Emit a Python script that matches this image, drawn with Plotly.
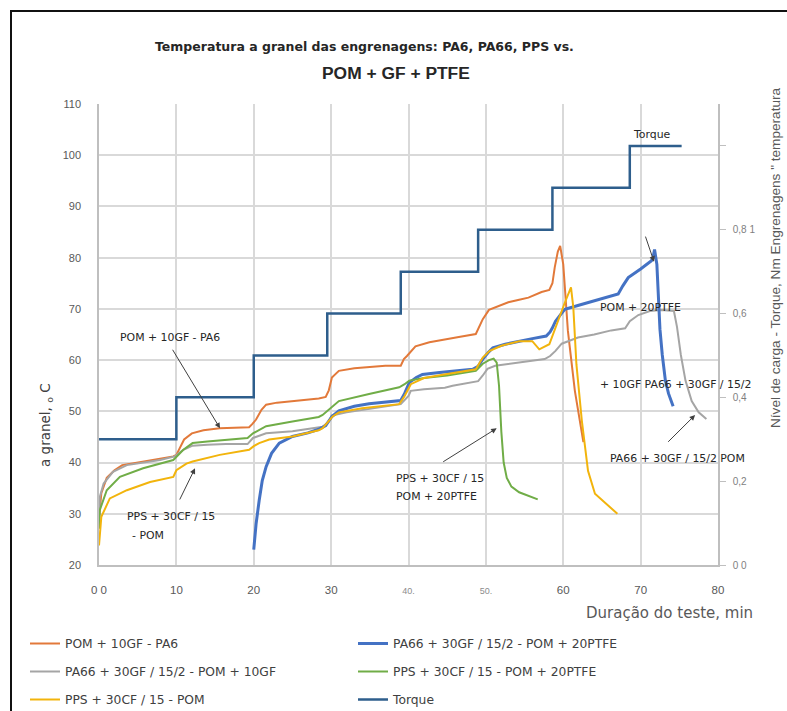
import plotly.graph_objects as go

# ---------------- data ----------------
torque_t = [0, 10, 20, 29.5, 39, 49, 58.6, 68.6, 75.3]
torque_v = [0.3, 0.4, 0.5, 0.6, 0.7, 0.8, 0.9, 1.0, 1.0]

orange_t = [0, 0.3, 1, 2, 3, 5, 7, 9.6, 10.0, 10.5, 11, 12, 13.5, 15.6, 17.5, 19.4, 19.8, 20.3, 21, 21.6,
            23, 25, 27, 28.4, 29.3, 29.7, 30.1, 31.0, 33, 34.9, 37, 39.0, 39.4, 39.8, 40.9, 42.7, 44.8, 46.5,
            48.7, 49.1, 49.6, 50.4, 52.9, 54.3, 55.5, 57.2, 58.2, 58.6, 58.9, 59.3, 59.6, 60.0, 60.2, 60.6,
            61.5, 62.6]
orange_T = [29, 34, 37, 38.5, 39.5, 40.0, 40.6, 41.2, 41.5, 43.0, 44.5, 45.7, 46.3, 46.7, 46.8, 46.9, 47.5,
            48.4, 50.3, 51.3, 51.7, 52.0, 52.3, 52.5, 52.8, 54.1, 56.6, 57.9, 58.4, 58.7, 58.9, 58.9, 60.2,
            60.8, 62.7, 63.5, 64.0, 64.5, 65.1, 66.3, 68.0, 69.8, 71.3, 71.8, 72.2, 73.3, 73.7, 75.0, 78.1,
            81.2, 82.3, 78.7, 74.2, 65.7, 54.0, 44.0]

blue_t = [20.0, 20.3, 20.7, 21.1, 21.6, 22.3, 23.3, 25, 27, 28.4, 29.3, 30.1, 31, 33, 34.9, 37, 39.0, 39.5,
          40.1, 41.0, 41.8, 44, 46, 48.3, 49.0, 49.6, 50.3, 50.9, 52.5, 54.3, 56, 57.8, 58.3, 58.6, 59.0,
          59.5, 60.2, 62, 64.1, 66, 67.1, 67.7, 68.4, 70, 71.4, 71.6, 71.8, 72.1, 72.5, 72.8, 73.2, 73.6, 74.2]
blue_T = [23.0, 28, 32.6, 36.5, 39.2, 41.8, 43.8, 45.1, 45.8, 46.5, 47.2, 49.0, 50.1, 51.0, 51.5, 51.8, 52.1,
          53.5, 55.6, 56.6, 57.2, 57.6, 57.9, 58.2, 58.8, 60.2, 61.5, 62.4, 63.1, 63.7, 64.2, 64.7, 65.5,
          66.3, 67.6, 68.6, 69.9, 70.7, 71.6, 72.3, 72.9, 74.5, 76.1, 77.8, 79.4, 80.0, 81.6, 78.7, 66.0,
          61.0, 56.0, 53.5, 51.0]

gray_t = [0, 0.1, 0.6, 1.8, 3.6, 6, 7.9, 9.8, 10.9, 12.1, 14, 16.4, 19.2, 19.9, 20.8, 21.6, 25, 28.4, 28.9,
          29.7, 30.1, 32, 34.9, 37, 39.0, 40.0, 40.3, 42, 44.7, 45.7, 49.0, 49.6, 50.2, 51.2, 54.3, 57.6,
          58.3, 59.0, 59.8, 61.9, 64, 66.2, 68.0, 68.6, 69.7, 71.2, 72.7, 74.3, 74.7, 75.2, 75.8, 76.6,
          77.5, 78.5]
gray_T = [28.1, 33.3, 35.9, 38.2, 39.5, 40.0, 40.5, 41.2, 42.5, 43.3, 43.5, 43.6, 43.6, 44.8, 45.3, 45.7,
          46.1, 46.8, 47.0, 48.0, 49.2, 49.8, 50.5, 50.9, 51.4, 53.0, 54.0, 54.3, 54.6, 55.0, 55.9, 57.0,
          58.3, 58.9, 59.5, 60.2, 60.8, 61.8, 63.2, 64.4, 65.0, 65.8, 66.2, 67.6, 68.8, 69.6, 69.8, 69.6,
          66.5, 61.0, 56.0, 52.0, 49.8, 48.5]

green_t = [0, 0.1, 1.0, 2.7, 5.7, 9.6, 10.9, 12.1, 14, 16.4, 19.2, 19.9, 20.8, 21.6, 25, 28.4, 28.9, 30.1,
           31, 34.9, 38.8, 39.5, 40.1, 42, 45, 48.7, 49.6, 50.4, 51.0, 51.4, 51.7, 52.0, 52.3, 52.7, 53.3,
           54.3, 56.7]
green_T = [27.1, 30.7, 34.6, 37.2, 38.9, 40.5, 42.5, 43.8, 44.1, 44.4, 44.8, 45.7, 46.5, 47.1, 48.0, 48.9,
           49.3, 50.8, 52.0, 53.4, 54.7, 55.3, 56.0, 56.5, 57.0, 57.9, 59.3, 60.0, 60.3, 59.5, 55.0, 46.0,
           40.0, 37.0, 35.3, 34.2, 32.8]

yellow_t = [0, 0.3, 1.4, 3.6, 6.6, 9.6, 10.0, 11.3, 12.1, 15.6, 19.4, 20.0, 20.7, 22, 25, 28.4, 28.9, 29.5,
            30.2, 31.0, 34, 38.8, 39.5, 40.3, 42, 45, 48.7, 49.6, 50.5, 52, 54.3, 56.0, 56.9, 58.2, 59.0,
            60.2, 61.0, 61.3, 61.7, 62.4, 63.2, 64.1, 67.0]
yellow_T = [23.8, 29.4, 33.0, 34.6, 36.2, 37.2, 38.5, 39.8, 40.2, 41.5, 42.5, 43.2, 43.8, 44.5, 45.1, 46.3,
            46.7, 47.8, 49.0, 49.8, 50.6, 51.4, 53.0, 55.3, 56.5, 57.3, 58.2, 60.5, 61.8, 62.8, 63.7, 63.7,
            62.1, 63.1, 66.5, 71.2, 74.2, 70.3, 59.2, 48.2, 38.4, 33.9, 30.0]

names = {
    "orange": "POM + 10GF - PA6",
    "blue": "PA66 + 30GF / 15/2 - POM + 20PTFE",
    "gray": "PA66 + 30GF / 15/2 - POM + 10GF",
    "green": "PPS + 30CF / 15 - POM + 20PTFE",
    "yellow": "PPS + 30CF / 15 - POM",
    "torque": "Torque",
}

x_tickvals = [0, 10, 20, 30, 40, 50, 60, 70, 80]
x_ticktext = ["0 0", "10", "20", "30", "<span style='font-size:9px;color:#8c8c8c'>40.</span>",
              "<span style='font-size:9px;color:#8c8c8c'>50.</span>", "60", "70", "80"]
y_tickvals = [20, 30, 40, 50, 60, 70, 80, 90, 100, 110]
y2_tickvals = [0, 0.2, 0.4, 0.6, 0.8, 1.0]
y2_ticktext = ["0 0", "0,2", "0,4", "0,6", "0,8 1", ""]

# ---------------- figure ----------------
W, H = 787, 711
L, R, T, B = 99, 69, 104, 146
PW, PH = W - L - R, H - T - B

def px(xp):
    return (xp - L) / PW

def py(yp):
    return (H - B - yp) / PH

C = {"orange": "#e2793a", "blue": "#4472c4", "gray": "#a5a5a5", "green": "#70ad47",
     "yellow": "#f2b40c", "torque": "#2e5e8c"}

fig = go.Figure()
fig.add_trace(go.Scatter(x=torque_t, y=torque_v, yaxis="y2", mode="lines", line_shape="hv",
                         line=dict(color=C["torque"], width=2.5), name=names["torque"],
                         legend="legend2", legendgroup="t", legendrank=3))
fig.add_trace(go.Scatter(x=orange_t, y=orange_T, mode="lines", line=dict(color=C["orange"], width=2),
                         name=names["orange"], legend="legend", legendgroup="o", legendrank=1))
fig.add_trace(go.Scatter(x=gray_t, y=gray_T, mode="lines", line=dict(color=C["gray"], width=2),
                         name=names["gray"], legend="legend", legendgroup="g", legendrank=2))
fig.add_trace(go.Scatter(x=blue_t, y=blue_T, mode="lines", line=dict(color=C["blue"], width=3),
                         name=names["blue"], legend="legend2", legendgroup="b", legendrank=1))
fig.add_trace(go.Scatter(x=green_t, y=green_T, mode="lines", line=dict(color=C["green"], width=2),
                         name=names["green"], legend="legend2", legendgroup="gr", legendrank=2))
fig.add_trace(go.Scatter(x=yellow_t, y=yellow_T, mode="lines", line=dict(color=C["yellow"], width=2),
                         name=names["yellow"], legend="legend", legendgroup="y", legendrank=3))

ann_font = dict(family="DejaVu Sans", size=10.9, color="#262626")
P = dict(xref="paper", yref="paper", showarrow=False, xanchor="center", yanchor="middle")
annotations = [
    dict(text="Temperatura a granel das engrenagens: PA6, PA66, PPS vs.", x=px(364), y=py(46),
         font=dict(family="DejaVu Sans", size=12.5, color="#262626", weight="bold"), **P),
    dict(text="<b>POM + GF + PTFE</b>", x=px(396), y=py(73),
         font=dict(family="Liberation Sans", size=17.4, color="#262626"), **P),
    dict(text="a granel, <sub>o</sub> C", x=px(46), y=py(425), textangle=-90,
         font=dict(family="DejaVu Sans", size=13.5, color="#404040"), **P),
    dict(text="Nível de carga - Torque, Nm Engrenagens \" temperatura", x=px(775), y=py(258),
         textangle=-90, font=dict(family="Liberation Sans", size=13.6, color="#595959"), **P),
    dict(text="Duração do teste, min", x=px(669.5), y=py(613),
         font=dict(family="DejaVu Sans", size=15, color="#595959"), **P),
    # in-plot labels
    dict(text="POM + 10GF - PA6", x=9.14, y=64.5, xref="x", yref="y", showarrow=False, font=ann_font),
    dict(text="PPS + 30CF / 15", x=3.36, y=29.4, xref="x", yref="y", showarrow=False, xanchor="left",
         font=ann_font),
    dict(text="- POM", x=4.01, y=25.7, xref="x", yref="y", showarrow=False, xanchor="left", font=ann_font),
    dict(text="PPS + 30CF / 15", x=38.13, y=36.9, xref="x", yref="y", showarrow=False, xanchor="left",
         font=ann_font),
    dict(text="POM + 20PTFE", x=38.13, y=33.3, xref="x", yref="y", showarrow=False, xanchor="left",
         font=ann_font),
    dict(text="POM + 20PTFE", x=64.53, y=70.3, xref="x", yref="y", showarrow=False, xanchor="left",
         font=ann_font),
    dict(text="+ 10GF PA66 + 30GF / 15/2", x=64.53, y=55.3, xref="x", yref="y", showarrow=False,
         xanchor="left", font=ann_font),
    dict(text="PA66 + 30GF / 15/2 POM", x=65.82, y=40.7, xref="x", yref="y", showarrow=False,
         xanchor="left", font=ann_font),
    dict(text="Torque", x=71.53, y=104.1, xref="x", yref="y", showarrow=False, font=ann_font),
]
arrows = [
    ((9.40, 62.31), (15.64, 46.69)),
    ((10.34, 32.49), (12.41, 38.88)),
    ((44.29, 39.97), (51.40, 46.69)),
    ((70.56, 84.41), (71.73, 79.21)),
    ((73.37, 43.76), (77.04, 49.28)),
]
for (tx, ty), (hx, hy) in arrows:
    annotations.append(dict(text="", x=hx, y=hy, ax=tx, ay=ty, xref="x", yref="y", axref="x", ayref="y",
                            showarrow=True, arrowhead=2, arrowsize=1.1, arrowwidth=1, arrowcolor="#404040"))

shapes = [dict(type="rect", xref="paper", yref="paper", x0=px(11), x1=px(800), y0=py(730), y1=py(11),
               line=dict(color="#111111", width=2), fillcolor="rgba(0,0,0,0)", layer="above")]

leg_font = dict(family="DejaVu Sans", size=12.3, color="#404040")
fig.update_layout(
    width=W, height=H,
    margin=dict(l=L, r=R, t=T, b=B, pad=0, autoexpand=False),
    paper_bgcolor="white", plot_bgcolor="white",
    font=dict(family="Liberation Sans, Arial, sans-serif", color="#595959"),
    xaxis=dict(range=[0, 80], tickvals=x_tickvals, ticktext=x_ticktext, showgrid=True,
               gridcolor="#d9d9d9", gridwidth=1.5, showline=True, linecolor="#bfbfbf", linewidth=1.5,
               ticks="", ticklabelstandoff=13, tickfont=dict(size=11.5, color="#595959"), zeroline=False),
    yaxis=dict(range=[20, 110], tickvals=y_tickvals, showgrid=True, gridcolor="#d9d9d9", gridwidth=1.5,
               showline=True, linecolor="#bfbfbf", linewidth=1.5, ticks="", ticklabelstandoff=14,
               tickfont=dict(size=11, color="#595959"), zeroline=False),
    yaxis2=dict(range=[0, 1.1], overlaying="y", side="right", tickvals=y2_tickvals, ticktext=y2_ticktext,
                showgrid=False, showline=True, linecolor="#bfbfbf", linewidth=1.5, ticks="outside",
                ticklen=6, tickcolor="#bfbfbf", tickwidth=1.2, ticklabelstandoff=5,
                tickfont=dict(size=10, color="#7f7f7f"), zeroline=False),
    legend=dict(x=px(25), y=py(629), xanchor="left", yanchor="top", orientation="v",
                font=leg_font, tracegroupgap=9, bgcolor="rgba(0,0,0,0)", itemwidth=30),
    legend2=dict(x=px(353), y=py(629), xanchor="left", yanchor="top", orientation="v",
                 font=leg_font, tracegroupgap=9, bgcolor="rgba(0,0,0,0)", itemwidth=30),
    annotations=annotations,
    shapes=shapes,
    showlegend=True,
)

fig.write_html("out.html")
